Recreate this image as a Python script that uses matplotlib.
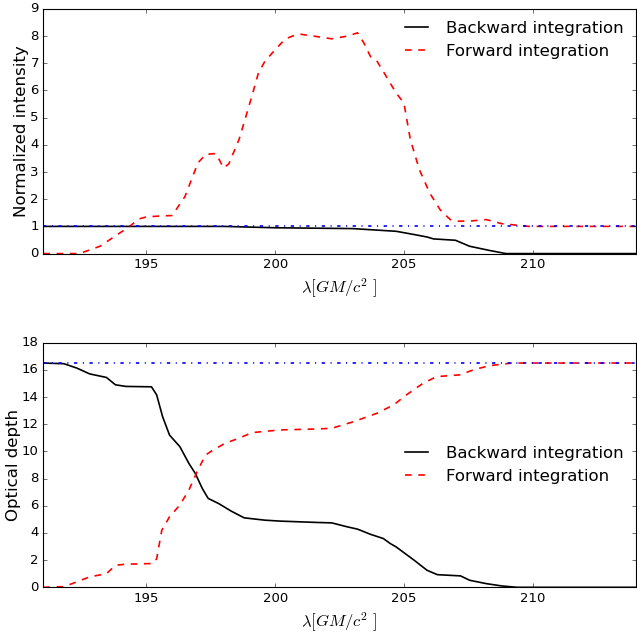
import matplotlib
matplotlib.use("Agg")
import matplotlib.pyplot as plt

plt.style.use("classic")
plt.rcParams["mathtext.fontset"] = "cm"
plt.rcParams["figure.facecolor"] = "white"

# top panel: normalized intensity
x_fwd_top = [191.0, 192.4, 193.2, 194.35, 194.7, 195.0, 195.5, 196.0, 196.5, 197.0, 197.3, 197.7,
             198.0, 198.2, 198.6, 199.1, 199.35, 199.6, 200.0, 200.4, 200.9, 201.5, 202.2, 202.8,
             203.2, 203.45, 203.7, 203.96, 204.35, 204.7, 205.0, 205.25, 205.6, 206.0, 206.4,
             206.8, 207.04, 207.6, 208.2, 208.8, 209.85, 214.0]
y_fwd_top = [0.0, 0.0, 0.27, 1.0, 1.27, 1.35, 1.38, 1.4, 2.1, 3.33, 3.65, 3.68,
             3.15, 3.3, 4.2, 5.8, 6.64, 7.07, 7.5, 7.9, 8.08, 8.0, 7.9, 8.0,
             8.12, 7.74, 7.25, 7.07, 6.46, 5.9, 5.54, 4.19, 3.09, 2.23, 1.62,
             1.25, 1.19, 1.2, 1.25, 1.1, 1.0, 1.0]

x_bwd_top = [191.0, 198.0, 200.0, 203.0, 204.7, 205.4, 205.9, 206.15, 207.0, 207.55, 208.3,
             208.96, 214.0]
y_bwd_top = [1.0, 1.0, 0.95, 0.92, 0.82, 0.7, 0.61, 0.54, 0.49, 0.27, 0.12, 0.0, 0.0]

# bottom panel: optical depth
x_bwd_bot = [191.0, 191.8, 192.3, 192.8, 193.45, 193.8, 194.2, 195.2, 195.4, 195.63, 195.9,
             196.3, 196.65, 196.9, 197.17, 197.4, 197.8, 198.3, 198.8, 199.6, 200.2, 201.65,
             202.2, 202.8, 203.2, 203.7, 204.2, 204.47, 204.7, 205.4, 205.9, 206.3, 207.2,
             207.55, 208.2, 208.8, 209.4, 214.0]
y_bwd_bot = [16.5, 16.45, 16.13, 15.7, 15.44, 14.9, 14.78, 14.75, 14.16, 12.56, 11.2,
             10.35, 9.12, 8.38, 7.28, 6.54, 6.17, 5.6, 5.11, 4.94, 4.87, 4.77,
             4.74, 4.45, 4.28, 3.9, 3.59, 3.22, 2.97, 1.99, 1.25, 0.93, 0.84,
             0.52, 0.27, 0.1, 0.0, 0.0]

x_fwd_bot = [191.0, 191.8, 192.3, 192.8, 193.45, 193.8, 194.2, 195.25, 195.4, 195.6, 195.9,
             196.3, 196.65, 197.0, 197.3, 197.55, 198.06, 198.6, 199.1, 200.2, 201.65, 202.2,
             203.07, 203.96, 204.6, 205.1, 205.75, 206.27, 207.17, 207.7, 208.3, 209.2, 214.0]
y_fwd_bot = [0.0, 0.05, 0.4, 0.77, 1.0, 1.62, 1.7, 1.75, 2.1, 4.2, 5.19,
             6.05, 7.15, 8.63, 9.73, 10.05, 10.6, 10.97, 11.38, 11.58, 11.65, 11.7,
             12.2, 12.81, 13.42, 14.16, 15.02, 15.5, 15.63, 16.0, 16.3, 16.5, 16.5]

ref_top = 1.0
ref_bot = 16.5
xlabel = r"$\lambda[GM/c^2\ ]$"

fig = plt.figure(figsize=(8, 8))
fig.subplots_adjust(left=0.068, right=0.998, top=0.986, bottom=0.078, hspace=0.364)

ax1 = fig.add_subplot(2, 1, 1)
ax1.plot(x_bwd_top, y_bwd_top, "k-", lw=1.5, label="Backward integration")
ax1.plot(x_fwd_top, y_fwd_top, "r--", lw=1.5, label="Forward integration")
ax1.axhline(ref_top, color="b", ls="-.", lw=1.5)
ax1.set_xlim(191, 214)
ax1.set_ylim(0, 9)
ax1.set_xlabel(xlabel, fontsize=15)
ax1.set_ylabel("Normalized intensity", fontsize=15, labelpad=1)
ax1.legend(loc="upper right", frameon=False, fontsize=15, borderaxespad=0.3)

ax2 = fig.add_subplot(2, 1, 2)
ax2.plot(x_bwd_bot, y_bwd_bot, "k-", lw=1.5, label="Backward integration")
ax2.plot(x_fwd_bot, y_fwd_bot, "r--", lw=1.5, label="Forward integration")
ax2.axhline(ref_bot, color="b", ls="-.", lw=1.5)
ax2.set_xlim(191, 214)
ax2.set_ylim(0, 18)
ax2.set_xlabel(xlabel, fontsize=15)
ax2.set_ylabel("Optical depth", fontsize=15, labelpad=1)
ax2.legend(loc="center right", frameon=False, fontsize=15, borderaxespad=0.3)

fig.savefig("out.png", dpi=637 / 8)
